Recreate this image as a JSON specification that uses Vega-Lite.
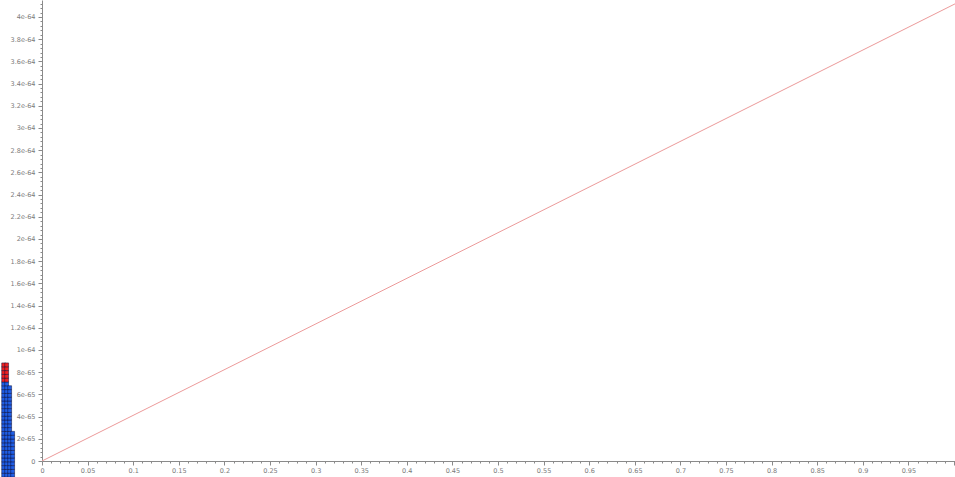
{
  "$schema": "https://vega.github.io/schema/vega-lite/v6.json",
  "padding": 0,
  "background": "white",
  "spacing": 28,
  "bounds": "flush",
  "config": {
    "view": {"stroke": null},
    "axis": {
      "grid": false,
      "domainColor": "#8a8a8a",
      "tickColor": "#8a8a8a",
      "labelColor": "#7a7a7a",
      "labelFont": "DejaVu Sans",
      "labelFontSize": 6.5,
      "domainWidth": 1,
      "tickWidth": 1
    }
  },
  "hconcat": [
    {
      "width": 12,
      "height": 477,
      "data": {
        "values": [
          {"c":0,"r":0,"group":"base"},{"c":0,"r":1,"group":"base"},{"c":0,"r":2,"group":"base"},{"c":0,"r":3,"group":"base"},{"c":0,"r":4,"group":"base"},
          {"c":0,"r":5,"group":"base"},{"c":0,"r":6,"group":"base"},{"c":0,"r":7,"group":"base"},{"c":0,"r":8,"group":"base"},{"c":0,"r":9,"group":"base"},
          {"c":0,"r":10,"group":"base"},{"c":0,"r":11,"group":"base"},{"c":0,"r":12,"group":"base"},{"c":0,"r":13,"group":"base"},{"c":0,"r":14,"group":"base"},
          {"c":0,"r":15,"group":"base"},{"c":0,"r":16,"group":"base"},{"c":0,"r":17,"group":"base"},{"c":0,"r":18,"group":"base"},{"c":0,"r":19,"group":"base"},
          {"c":0,"r":20,"group":"base"},{"c":0,"r":21,"group":"base"},{"c":0,"r":22,"group":"base"},{"c":0,"r":23,"group":"base"},{"c":0,"r":24,"group":"base"},
          {"c":0,"r":25,"group":"top"},{"c":0,"r":26,"group":"top"},{"c":0,"r":27,"group":"top"},{"c":0,"r":28,"group":"top"},{"c":0,"r":29,"group":"top"},
          {"c":1,"r":0,"group":"base"},{"c":1,"r":1,"group":"base"},{"c":1,"r":2,"group":"base"},{"c":1,"r":3,"group":"base"},{"c":1,"r":4,"group":"base"},
          {"c":1,"r":5,"group":"base"},{"c":1,"r":6,"group":"base"},{"c":1,"r":7,"group":"base"},{"c":1,"r":8,"group":"base"},{"c":1,"r":9,"group":"base"},
          {"c":1,"r":10,"group":"base"},{"c":1,"r":11,"group":"base"},{"c":1,"r":12,"group":"base"},{"c":1,"r":13,"group":"base"},{"c":1,"r":14,"group":"base"},
          {"c":1,"r":15,"group":"base"},{"c":1,"r":16,"group":"base"},{"c":1,"r":17,"group":"base"},{"c":1,"r":18,"group":"base"},{"c":1,"r":19,"group":"base"},
          {"c":1,"r":20,"group":"base"},{"c":1,"r":21,"group":"base"},{"c":1,"r":22,"group":"base"},{"c":1,"r":23,"group":"base"},{"c":1,"r":24,"group":"base"},
          {"c":1,"r":25,"group":"top"},{"c":1,"r":26,"group":"top"},{"c":1,"r":27,"group":"top"},{"c":1,"r":28,"group":"top"},{"c":1,"r":29,"group":"top"},
          {"c":2,"r":0,"group":"base"},{"c":2,"r":1,"group":"base"},{"c":2,"r":2,"group":"base"},{"c":2,"r":3,"group":"base"},{"c":2,"r":4,"group":"base"},
          {"c":2,"r":5,"group":"base"},{"c":2,"r":6,"group":"base"},{"c":2,"r":7,"group":"base"},{"c":2,"r":8,"group":"base"},{"c":2,"r":9,"group":"base"},
          {"c":2,"r":10,"group":"base"},{"c":2,"r":11,"group":"base"},{"c":2,"r":12,"group":"base"},{"c":2,"r":13,"group":"base"},{"c":2,"r":14,"group":"base"},
          {"c":2,"r":15,"group":"base"},{"c":2,"r":16,"group":"base"},{"c":2,"r":17,"group":"base"},{"c":2,"r":18,"group":"base"},{"c":2,"r":19,"group":"base"},
          {"c":2,"r":20,"group":"base"},{"c":2,"r":21,"group":"base"},{"c":2,"r":22,"group":"base"},{"c":2,"r":23,"group":"base"},
          {"c":3,"r":0,"group":"base"},{"c":3,"r":1,"group":"base"},{"c":3,"r":2,"group":"base"},{"c":3,"r":3,"group":"base"},{"c":3,"r":4,"group":"base"},
          {"c":3,"r":5,"group":"base"},{"c":3,"r":6,"group":"base"},{"c":3,"r":7,"group":"base"},{"c":3,"r":8,"group":"base"},{"c":3,"r":9,"group":"base"},
          {"c":3,"r":10,"group":"base"},{"c":3,"r":11,"group":"base"}
        ]
      },
      "mark": {"type": "square", "size": 15, "filled": true, "opacity": 1, "stroke": "#10103a", "strokeWidth": 0.5},
      "encoding": {
        "x": {"field": "c", "type": "quantitative", "axis": null, "scale": {"domain": [-0.55, 3.45], "nice": false, "zero": false}},
        "y": {"field": "r", "type": "quantitative", "axis": null, "scale": {"domain": [-0.5, 125], "nice": false, "zero": false}},
        "color": {"field": "group", "type": "nominal", "legend": null, "scale": {"domain": ["base", "top"], "range": ["#1f5ee6", "#f02020"]}}
      }
    },
    {
      "width": 915,
      "height": 461,
      "data": {
        "values": [
          {"x": 0, "y": 0},
          {"x": 1.0033, "y": 4.127e-64}
        ]
      },
      "mark": {"type": "line", "color": "#ec9a9a", "strokeWidth": 1, "clip": true},
      "encoding": {
        "x": {
          "field": "x", "type": "quantitative",
          "scale": {"domain": [0, 1.0033], "nice": false, "zero": false},
          "axis": {
            "title": null,
            "values": [0,0.01,0.02,0.03,0.04,0.05,0.06,0.07,0.08,0.09,0.1,0.11,0.12,0.13,0.14,0.15,0.16,0.17,0.18,0.19,0.2,0.21,0.22,0.23,0.24,0.25,0.26,0.27,0.28,0.29,0.3,0.31,0.32,0.33,0.34,0.35,0.36,0.37,0.38,0.39,0.4,0.41,0.42,0.43,0.44,0.45,0.46,0.47,0.48,0.49,0.5,0.51,0.52,0.53,0.54,0.55,0.56,0.57,0.58,0.59,0.6,0.61,0.62,0.63,0.64,0.65,0.66,0.67,0.68,0.69,0.7,0.71,0.72,0.73,0.74,0.75,0.76,0.77,0.78,0.79,0.8,0.81,0.82,0.83,0.84,0.85,0.86,0.87,0.88,0.89,0.9,0.91,0.92,0.93,0.94,0.95,0.96,0.97,0.98,0.99,1],
            "labelExpr": "(round(datum.value * 100) % 5 == 0 && datum.value < 0.97) ? ('' + datum.value) : ''",
            "tickSize": {"condition": {"test": "round(datum.value * 100) % 5 == 0", "value": 4}, "value": 2},
            "labelPadding": 2,
            "labelFlush": false,
            "labelOverlap": false
          }
        },
        "y": {
          "field": "y", "type": "quantitative",
          "scale": {"domain": [0, 4.153e-64], "nice": false, "zero": true},
          "axis": {
            "title": null,
            "values": [0,4e-66,8e-66,12e-66,16e-66,20e-66,24e-66,28e-66,32e-66,36e-66,40e-66,44e-66,48e-66,52e-66,56e-66,60e-66,64e-66,68e-66,72e-66,76e-66,80e-66,84e-66,88e-66,92e-66,96e-66,100e-66,104e-66,108e-66,112e-66,116e-66,120e-66,124e-66,128e-66,132e-66,136e-66,140e-66,144e-66,148e-66,152e-66,156e-66,160e-66,164e-66,168e-66,172e-66,176e-66,180e-66,184e-66,188e-66,192e-66,196e-66,200e-66,204e-66,208e-66,212e-66,216e-66,220e-66,224e-66,228e-66,232e-66,236e-66,240e-66,244e-66,248e-66,252e-66,256e-66,260e-66,264e-66,268e-66,272e-66,276e-66,280e-66,284e-66,288e-66,292e-66,296e-66,300e-66,304e-66,308e-66,312e-66,316e-66,320e-66,324e-66,328e-66,332e-66,336e-66,340e-66,344e-66,348e-66,352e-66,356e-66,360e-66,364e-66,368e-66,372e-66,376e-66,380e-66,384e-66,388e-66,392e-66,396e-66,400e-66,404e-66,408e-66,412e-66],
            "labelExpr": "round(datum.value / 4e-66) % 5 == 0 ? (datum.value == 0 ? '0' : format(datum.value, '~e')) : ''",
            "tickSize": {"condition": {"test": "round(datum.value / 4e-66) % 5 == 0", "value": 4}, "value": 2},
            "labelPadding": 3,
            "labelFlush": false,
            "labelOverlap": false
          }
        }
      }
    }
  ]
}
